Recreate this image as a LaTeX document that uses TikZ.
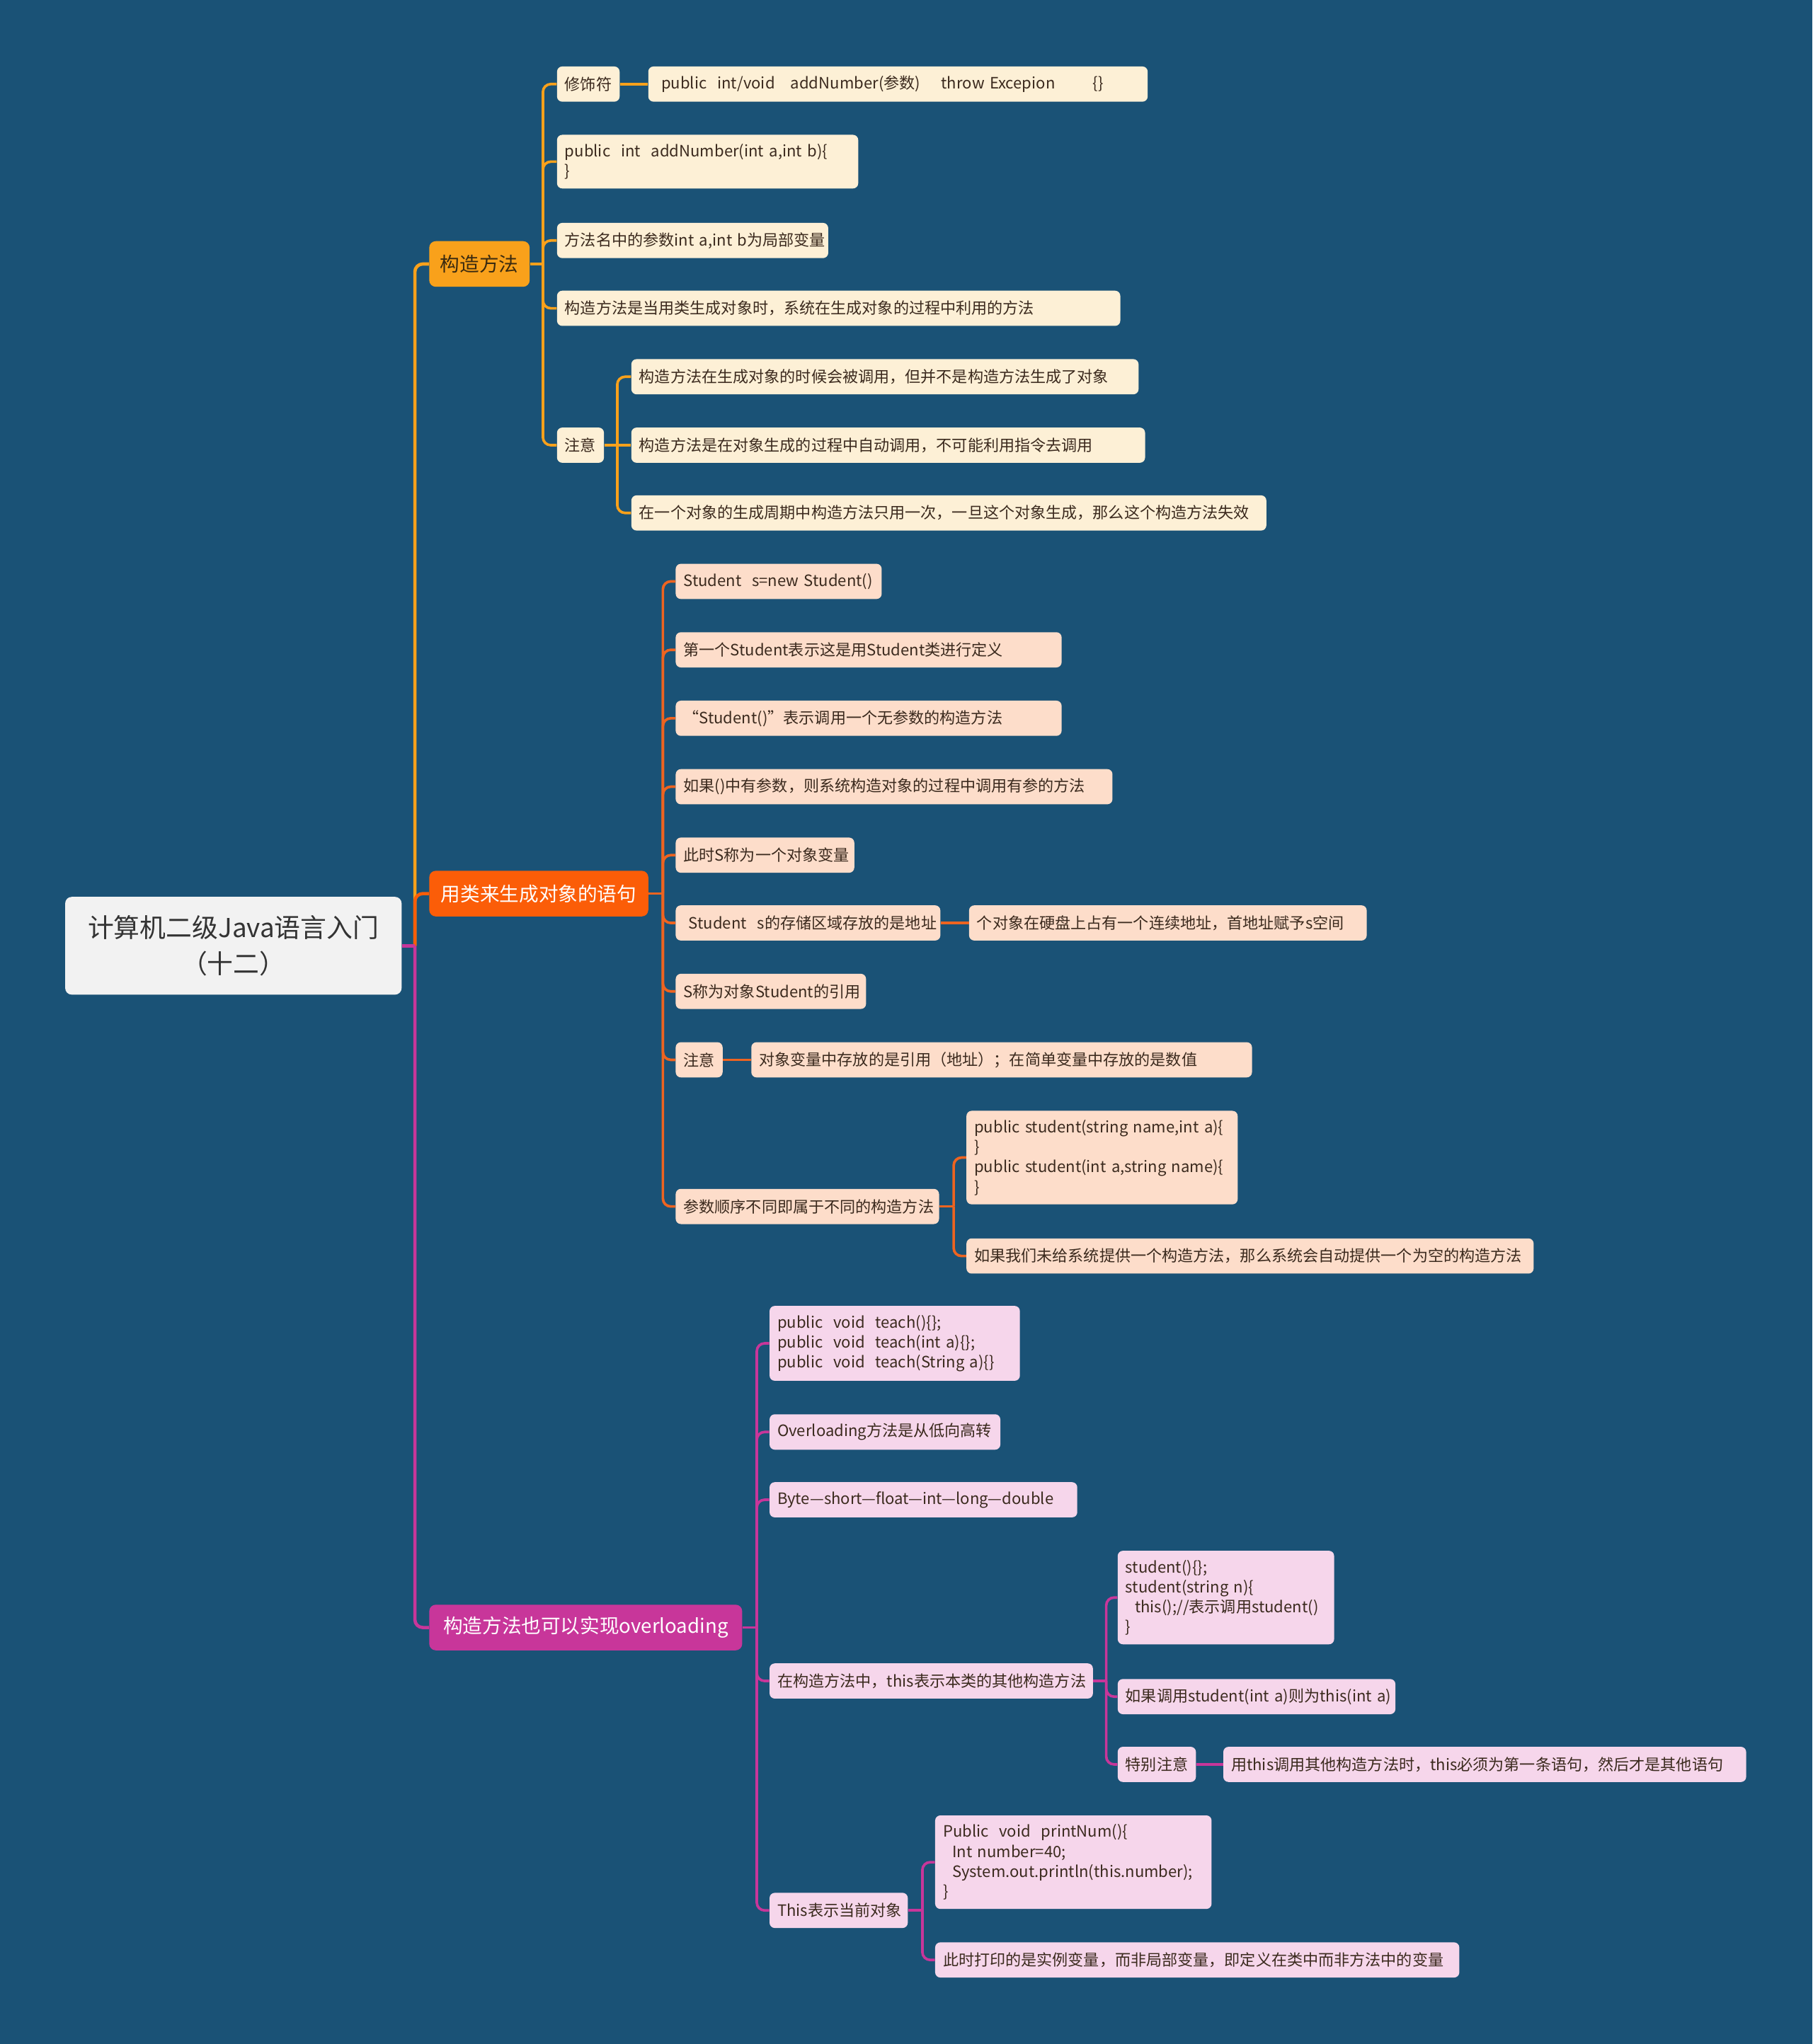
\documentclass[tikz,border=0pt]{standalone}
\usepackage{fontspec}
\setmainfont{Noto Sans CJK SC}
\definecolor{bg}{HTML}{1A5276}
\definecolor{rootfill}{HTML}{F2F2F2}
\definecolor{rootText}{HTML}{333333}
\definecolor{cA}{HTML}{F9A11B}
\definecolor{cB}{HTML}{FB5D08}
\definecolor{cBline}{HTML}{EE6420}
\definecolor{cC}{HTML}{C8369A}
\definecolor{fA}{HTML}{FDF0D6}
\definecolor{fB}{HTML}{FDDDCA}
\definecolor{fC}{HTML}{F6D6EB}
\definecolor{leafText}{HTML}{3B2A1E}
\definecolor{brAText}{HTML}{3A2A10}
% corner connectors from a parent to children through a vertical trunk
\newcommand\mmconn[4]{%
  \draw[#1] (#2.east) -- ++(#3,0) coordinate (#2j);
  \foreach \cc in {#4}{\draw[#1,rounded corners=6pt] (#2j) |- (\cc.west);}
}
% straight connector between nodes on the same line
\newcommand\mmline[3]{\draw[#1] (#2.east) -- (#3.west);}
\begin{document}
\begin{tikzpicture}[x=1pt,y=-1pt,
  rootbox/.style={fill=rootfill,text=rootText,rounded corners=5pt,minimum width=258pt,minimum height=75pt,align=center,font=\fontsize{20}{28}\selectfont,inner sep=0pt},
  brbox/.style={rounded corners=5pt,minimum height=35pt,inner xsep=0pt,inner ysep=0pt,anchor=west,font=\fontsize{15}{18}\selectfont},
  leaf/.style={rounded corners=4pt,inner xsep=6pt,inner ysep=7pt,minimum height=27pt,anchor=west,align=left,text=leafText,font=\fontsize{12}{15.3}\selectfont},
  lfA/.style={leaf,fill=fA},
  lfB/.style={leaf,fill=fB},
  lfC/.style={leaf,fill=fC},
  lnA/.style={draw=cA,line width=2pt},
  lnB/.style={draw=cBline,line width=2pt},
  lnC/.style={draw=cC,line width=2pt},
]
\fill[bg] (0,0) rectangle (1390,1568);
\useasboundingbox (0,0) rectangle (1390,1568);

% root
\node[rootbox] (root) at (179,725.5) {计算机二级Java语言入门\\（十二）};

% branches
\node[brbox,fill=cA,text=brAText,minimum width=77pt] (B1) at (329,202.5) {构造方法};
\node[brbox,fill=cB,text=white,minimum width=168pt] (B2) at (329,685.5) {用类来生成对象的语句};
\node[brbox,fill=cC,text=white,minimum width=240pt] (B3) at (329,1248.5) {构造方法也可以实现overloading};

% branch 1 leaves
\node[lfA,text width=36pt] (a1) at (427,64.5) {\mbox{修饰符}};
\node[lfA,text width=371pt] (a1c) at (497,64.5) {\mbox{\ public\ \ int/void\ \ \ addNumber(参数)\ \ \ \ throw Excepion\hspace{2.4em}\{\}}};
\node[lfA,text width=219pt] (a2) at (427,124) {public\ \ int\ \ addNumber(int a,int b)\{\\\}};
\node[lfA,text width=196pt] (a3) at (427,184.5) {\mbox{方法名中的参数int a,int b为局部变量}};
\node[lfA,text width=420pt] (a4) at (427,236.5) {\mbox{构造方法是当用类生成对象时，系统在生成对象的过程中利用的方法}};
\node[lfA,text width=24pt] (a5) at (427,341.5) {\mbox{注意}};
\node[lfA,text width=377pt] (a5a) at (484,289) {\mbox{构造方法在生成对象的时候会被调用，但并不是构造方法生成了对象}};
\node[lfA,text width=382pt] (a5b) at (484,341.5) {\mbox{构造方法是在对象生成的过程中自动调用，不可能利用指令去调用}};
\node[lfA,text width=475pt] (a5c) at (484,393.5) {\mbox{在一个对象的生成周期中构造方法只用一次，一旦这个对象生成，那么这个构造方法失效}};

% branch 2 leaves
\node[lfB,text width=146pt] (b1) at (518,446) {\mbox{Student\ \ s=new Student()}};
\node[lfB,text width=284pt] (b2) at (518,498.5) {\mbox{第一个Student表示这是用Student类进行定义}};
\node[lfB,text width=284pt] (b3) at (518,551) {\mbox{“Student()”表示调用一个无参数的构造方法}};
\node[lfB,text width=323pt] (b4) at (518,603.5) {\mbox{如果()中有参数，则系统构造对象的过程中调用有参的方法}};
\node[lfB,text width=125pt] (b5) at (518,656) {\mbox{此时S称为一个对象变量}};
\node[lfB,text width=191pt] (b6) at (518,708) {\mbox{\ Student\ \ s的存储区域存放的是地址}};
\node[lfB,text width=293pt] (b6c) at (743,708) {\mbox{个对象在硬盘上占有一个连续地址，首地址赋予s空间}};
\node[lfB,text width=134pt] (b7) at (518,760.5) {\mbox{S称为对象Student的引用}};
\node[lfB,text width=24pt] (b8) at (518,813) {\mbox{注意}};
\node[lfB,text width=372pt] (b8c) at (576,813) {\mbox{对象变量中存放的是引用（地址）；在简单变量中存放的是数值}};
\node[lfB,text width=190pt] (b9) at (518,925.5) {\mbox{参数顺序不同即属于不同的构造方法}};
\node[lfB,text width=196pt] (b9a) at (741,888) {public student(string name,int a)\{\\\}\\public student(int a,string name)\{\\\}};
\node[lfB,text width=423pt] (b9b) at (741,963.5) {\mbox{如果我们未给系统提供一个构造方法，那么系统会自动提供一个为空的构造方法}};

% branch 3 leaves
\node[lfC,text width=180pt] (c1) at (590,1030.5) {public\ \ void\ \ teach()\{\};\\public\ \ void\ \ teach(int a)\{\};\\public\ \ void\ \ teach(String a)\{\}};
\node[lfC,text width=165pt] (c2) at (590,1098.5) {\mbox{Overloading方法是从低向高转}};
\node[lfC,text width=224pt] (c3) at (590,1150.5) {\mbox{Byte—short—float—int—long—double}};
\node[lfC,text width=236pt] (c4) at (590,1289.5) {\mbox{在构造方法中，this表示本类的其他构造方法}};
\node[lfC,text width=154pt] (c4a) at (857,1225.5) {student()\{\};\\student(string n)\{\\\hspace*{0.6em}this();//表示调用student()\\\}};
\node[lfC,text width=201pt] (c4b) at (857,1301.5) {\mbox{如果调用student(int a)则为this(int a)}};
\node[lfC,text width=48pt] (c4c) at (857,1353.5) {\mbox{特别注意}};
\node[lfC,text width=389pt] (c4cc) at (938,1353.5) {\mbox{用this调用其他构造方法时，this必须为第一条语句，然后才是其他语句}};
\node[lfC,text width=94pt] (c5) at (590,1465.5) {\mbox{This表示当前对象}};
\node[lfC,text width=200pt] (c5a) at (717,1428.5) {Public\ \ void\ \ printNum()\{\\\hspace*{0.6em}Int number=40;\\\hspace*{0.6em}System.out.println(this.number);\\\}};
\node[lfC,text width=390pt] (c5b) at (717,1503.5) {\mbox{此时打印的是实例变量，而非局部变量，即定义在类中而非方法中的变量}};

% root connectors
\draw[draw=cA,line width=2.5pt] (root.east) -- ++(10,0) coordinate (rjA);
\draw[draw=cA,line width=2.5pt,rounded corners=6pt] (rjA) |- (B1.west);
\draw[draw=cB,line width=2.5pt] (root.east) -- ++(10,0) coordinate (rjB);
\draw[draw=cB,line width=2.5pt,rounded corners=6pt] (rjB) |- (B2.west);
\draw[draw=cC,line width=2.5pt] (root.east) -- ++(10,0) coordinate (rjC);
\draw[draw=cC,line width=2.5pt,rounded corners=6pt] (rjC) |- (B3.west);

% branch 1 connectors
\mmconn{lnA}{B1}{10}{a1,a2,a3,a4,a5}
\mmline{lnA}{a1}{a1c}
\mmconn{lnA}{a5}{10}{a5a,a5c}
\draw[lnA] (a5j) -- (a5b.west);

% branch 2 connectors
\mmconn{lnB}{B2}{11}{b1,b2,b3,b4,b5,b6,b7,b8,b9}
\mmline{lnB}{b6}{b6c}
\mmline{lnB}{b8}{b8c}
\mmconn{lnB}{b9}{11}{b9a,b9b}

% branch 3 connectors
\mmconn{lnC}{B3}{11}{c1,c2,c3,c4,c5}
\mmconn{lnC}{c4}{10}{c4a,c4b,c4c}
\mmline{lnC}{c4c}{c4cc}
\mmconn{lnC}{c5}{11}{c5a,c5b}
\end{tikzpicture}
\end{document}
